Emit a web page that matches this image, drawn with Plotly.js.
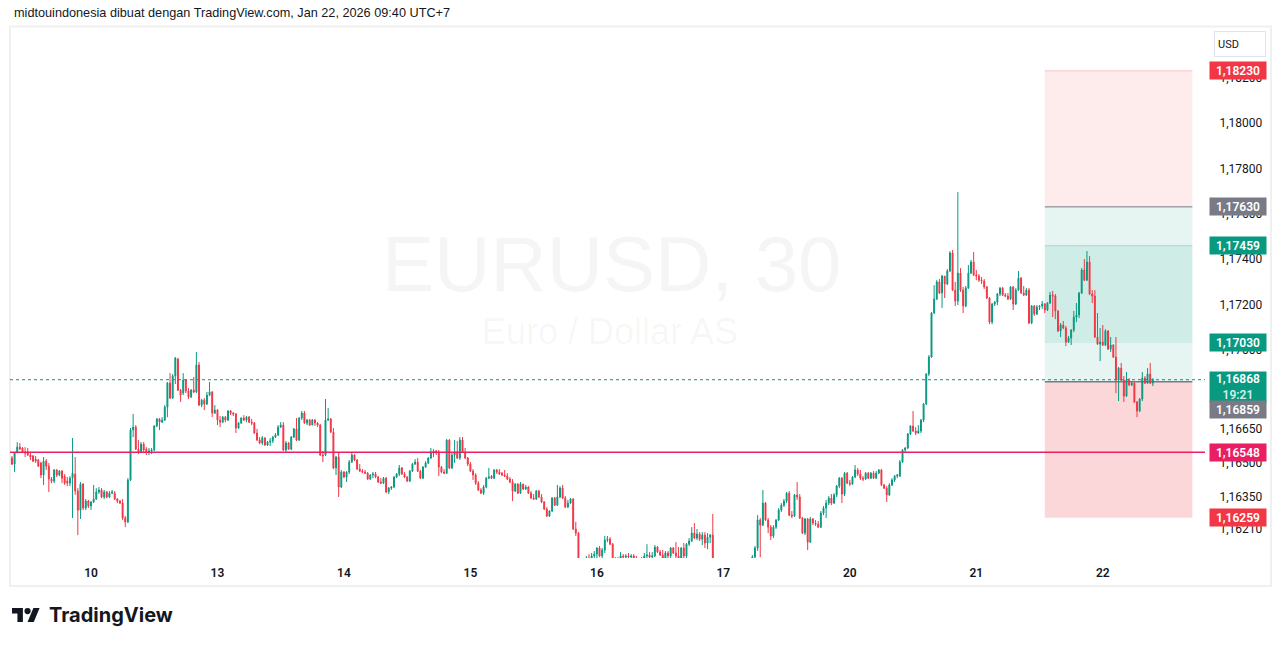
<!DOCTYPE html>
<html><head><meta charset="utf-8">
<script src="https://cdn.plot.ly/plotly-3.0.1.min.js"></script>
<style>html,body{margin:0;padding:0;background:#fff;}#chart{width:1281px;height:646px;}</style>
</head><body><div id="chart"></div>
<script>
// EURUSD 30-minute candles, Jan 9 2026 09:00 -> Jan 22 2026 09:30 (UTC+7)
const open = [
1.16523,1.16496,1.16545,1.16571,1.16567,1.16549,1.16549,1.16536,1.16532,1.16518,
1.16514,1.16501,1.16448,1.16509,1.16487,1.16430,1.16421,1.16470,1.16448,1.16465,
1.16443,1.16421,1.16412,1.16434,1.16452,1.16377,1.16293,1.16408,1.16302,1.16333,
1.16311,1.16329,1.16342,1.16373,1.16382,1.16351,1.16373,1.16351,1.16368,1.16368,
1.16342,1.16333,1.16324,1.16258,1.16241,1.16426,1.16646,1.16659,1.16562,1.16549,
1.16584,1.16562,1.16549,1.16554,1.16558,1.16664,1.16695,1.16681,1.16690,1.16747,
1.16853,1.16787,1.16884,1.16959,1.16822,1.16809,1.16867,1.16818,1.16792,1.16822,
1.16814,1.16933,1.16756,1.16778,1.16761,1.16800,1.16814,1.16721,1.16734,1.16690,
1.16681,1.16703,1.16690,1.16730,1.16721,1.16717,1.16655,1.16677,1.16699,1.16690,
1.16703,1.16681,1.16677,1.16633,1.16602,1.16589,1.16611,1.16580,1.16593,1.16598,
1.16615,1.16624,1.16659,1.16668,1.16558,1.16589,1.16562,1.16615,1.16651,1.16602,
1.16699,1.16721,1.16677,1.16690,1.16668,1.16690,1.16677,1.16668,1.16536,1.16536,
1.16690,1.16695,1.16637,1.16479,1.16527,1.16395,1.16461,1.16439,1.16461,1.16505,
1.16536,1.16514,1.16474,1.16465,1.16461,1.16456,1.16430,1.16448,1.16452,1.16439,
1.16417,1.16412,1.16434,1.16373,1.16390,1.16395,1.16439,1.16452,1.16479,1.16452,
1.16439,1.16421,1.16465,1.16496,1.16505,1.16465,1.16434,1.16483,1.16501,1.16523,
1.16549,1.16554,1.16545,1.16483,1.16461,1.16456,1.16602,1.16479,1.16536,1.16549,
1.16523,1.16602,1.16549,1.16523,1.16496,1.16465,1.16448,1.16412,1.16382,1.16368,
1.16395,1.16434,1.16443,1.16434,1.16470,1.16461,1.16456,1.16448,1.16443,1.16430,
1.16417,1.16377,1.16408,1.16368,1.16408,1.16386,1.16395,1.16368,1.16346,1.16342,
1.16377,1.16351,1.16329,1.16298,1.16267,1.16289,1.16346,1.16315,1.16351,1.16390,
1.16346,1.16307,1.16324,1.16342,1.16210,1.16192,1.16047,1.16038,1.16051,1.16082,
1.16073,1.16091,1.16099,1.16126,1.16091,1.16117,1.16161,1.16165,1.16143,1.16073,
1.16064,1.16077,1.16091,1.16086,1.16091,1.16086,1.16091,1.16082,1.16073,1.16069,
1.16082,1.16091,1.16095,1.16086,1.16091,1.16130,1.16108,1.16095,1.16082,1.16104,
1.16091,1.16126,1.16104,1.16091,1.16082,1.16126,1.16091,1.16143,1.16157,1.16192,
1.16170,1.16188,1.16165,1.16183,1.16148,1.16174,1.16183,1.16038,1.16020,1.16029,
1.16011,1.16020,1.16007,1.16016,1.16003,1.16011,1.16020,1.16011,1.16025,1.16016,
1.16029,1.16051,1.16086,1.16126,1.16249,1.16227,1.16324,1.16249,1.16218,1.16179,
1.16218,1.16249,1.16293,1.16315,1.16333,1.16368,1.16271,1.16267,1.16360,1.16351,
1.16258,1.16192,1.16254,1.16152,1.16254,1.16236,1.16232,1.16218,1.16280,1.16302,
1.16324,1.16346,1.16324,1.16360,1.16399,1.16434,1.16364,1.16456,1.16412,1.16408,
1.16439,1.16470,1.16452,1.16434,1.16430,1.16456,1.16434,1.16456,1.16434,1.16456,
1.16470,1.16404,1.16390,1.16360,1.16404,1.16426,1.16443,1.16443,1.16505,1.16558,
1.16567,1.16629,1.16664,1.16642,1.16633,1.16642,1.16690,1.16761,1.16893,1.16968,
1.17162,1.17224,1.17299,1.17250,1.17325,1.17290,1.17347,1.17427,1.17263,1.17215,
1.17338,1.17263,1.17193,1.17272,1.17338,1.17387,1.17330,1.17325,1.17307,1.17303,
1.17277,1.17228,1.17122,1.17202,1.17210,1.17246,1.17272,1.17241,1.17237,1.17224,
1.17277,1.17202,1.17263,1.17316,1.17250,1.17241,1.17263,1.17118,1.17193,1.17158,
1.17188,1.17193,1.17202,1.17175,1.17206,1.17241,1.17237,1.17171,1.17083,1.17109,
1.17096,1.17034,1.17052,1.17087,1.17144,1.17153,1.17250,1.17352,1.17307,1.17387,
1.17246,1.17237,1.17056,1.17025,1.17034,1.17021,1.17083,1.17003,1.17021,1.16968,
1.16867,1.16919,1.16867,1.16796,1.16867,1.16845,1.16853,1.16770,1.16730,1.16783,
1.16875,1.16853,1.16893,1.16853];
const high = [
1.16532,1.16549,1.16593,1.16589,1.16571,1.16571,1.16567,1.16545,1.16536,1.16532,
1.16518,1.16505,1.16527,1.16518,1.16501,1.16439,1.16474,1.16474,1.16470,1.16470,
1.16452,1.16439,1.16443,1.16611,1.16527,1.16390,1.16417,1.16412,1.16342,1.16338,
1.16333,1.16404,1.16390,1.16395,1.16390,1.16382,1.16377,1.16377,1.16382,1.16377,
1.16346,1.16338,1.16342,1.16267,1.16434,1.16655,1.16717,1.16668,1.16602,1.16593,
1.16593,1.16571,1.16567,1.16567,1.16668,1.16699,1.16699,1.16703,1.16756,1.16858,
1.16897,1.16893,1.16968,1.16964,1.16827,1.16897,1.16871,1.16831,1.16827,1.16880,
1.16990,1.16946,1.16783,1.16787,1.16814,1.16858,1.16818,1.16756,1.16739,1.16708,
1.16708,1.16708,1.16734,1.16734,1.16725,1.16721,1.16681,1.16703,1.16712,1.16708,
1.16708,1.16695,1.16681,1.16651,1.16615,1.16620,1.16615,1.16598,1.16611,1.16620,
1.16633,1.16668,1.16681,1.16681,1.16598,1.16593,1.16620,1.16655,1.16699,1.16703,
1.16730,1.16730,1.16695,1.16695,1.16695,1.16695,1.16681,1.16673,1.16554,1.16783,
1.16743,1.16699,1.16655,1.16532,1.16545,1.16470,1.16465,1.16465,1.16514,1.16545,
1.16540,1.16518,1.16496,1.16474,1.16470,1.16461,1.16452,1.16461,1.16461,1.16443,
1.16434,1.16439,1.16439,1.16395,1.16399,1.16443,1.16456,1.16492,1.16483,1.16461,
1.16443,1.16470,1.16501,1.16518,1.16523,1.16470,1.16487,1.16509,1.16527,1.16567,
1.16562,1.16558,1.16558,1.16487,1.16474,1.16606,1.16606,1.16545,1.16602,1.16598,
1.16615,1.16615,1.16567,1.16527,1.16505,1.16474,1.16456,1.16421,1.16390,1.16404,
1.16439,1.16479,1.16448,1.16474,1.16474,1.16474,1.16461,1.16470,1.16456,1.16439,
1.16430,1.16412,1.16412,1.16417,1.16408,1.16404,1.16399,1.16377,1.16364,1.16382,
1.16382,1.16364,1.16333,1.16307,1.16293,1.16351,1.16351,1.16404,1.16399,1.16404,
1.16355,1.16338,1.16346,1.16346,1.16241,1.16196,1.16073,1.16064,1.16091,1.16099,
1.16104,1.16113,1.16130,1.16135,1.16126,1.16179,1.16179,1.16174,1.16148,1.16086,
1.16086,1.16108,1.16099,1.16099,1.16104,1.16099,1.16099,1.16091,1.16082,1.16086,
1.16104,1.16143,1.16108,1.16108,1.16139,1.16135,1.16117,1.16117,1.16113,1.16113,
1.16130,1.16130,1.16152,1.16130,1.16130,1.16148,1.16148,1.16170,1.16218,1.16236,
1.16210,1.16196,1.16196,1.16196,1.16192,1.16188,1.16276,1.16051,1.16047,1.16042,
1.16033,1.16029,1.16029,1.16025,1.16025,1.16033,1.16029,1.16038,1.16033,1.16042,
1.16064,1.16095,1.16135,1.16271,1.16258,1.16382,1.16329,1.16258,1.16227,1.16227,
1.16254,1.16302,1.16324,1.16342,1.16373,1.16377,1.16289,1.16364,1.16417,1.16364,
1.16263,1.16258,1.16258,1.16263,1.16258,1.16249,1.16245,1.16289,1.16311,1.16338,
1.16355,1.16364,1.16368,1.16404,1.16439,1.16439,1.16461,1.16461,1.16426,1.16443,
1.16492,1.16479,1.16470,1.16443,1.16461,1.16461,1.16461,1.16465,1.16465,1.16474,
1.16474,1.16408,1.16399,1.16412,1.16434,1.16448,1.16452,1.16514,1.16562,1.16571,
1.16633,1.16668,1.16730,1.16659,1.16668,1.16695,1.16765,1.16897,1.16977,1.17166,
1.17285,1.17307,1.17312,1.17330,1.17325,1.17356,1.17435,1.17440,1.17299,1.17695,
1.17360,1.17277,1.17281,1.17374,1.17396,1.17431,1.17352,1.17334,1.17321,1.17312,
1.17281,1.17232,1.17206,1.17215,1.17250,1.17277,1.17277,1.17250,1.17250,1.17281,
1.17281,1.17272,1.17347,1.17321,1.17281,1.17272,1.17272,1.17197,1.17197,1.17197,
1.17197,1.17215,1.17206,1.17210,1.17255,1.17259,1.17246,1.17175,1.17118,1.17127,
1.17105,1.17061,1.17091,1.17171,1.17206,1.17255,1.17360,1.17400,1.17435,1.17413,
1.17263,1.17263,1.17162,1.17096,1.17109,1.17091,1.17087,1.17056,1.17025,1.17056,
1.16924,1.16942,1.16884,1.16902,1.16875,1.16862,1.16862,1.16774,1.16787,1.16902,
1.16884,1.16919,1.16942,1.16875];
const low = [
1.16492,1.16461,1.16545,1.16558,1.16545,1.16527,1.16532,1.16514,1.16505,1.16501,
1.16483,1.16434,1.16404,1.16470,1.16373,1.16412,1.16412,1.16439,1.16443,1.16412,
1.16404,1.16399,1.16399,1.16258,1.16360,1.16183,1.16254,1.16293,1.16293,1.16302,
1.16293,1.16324,1.16338,1.16364,1.16346,1.16342,1.16346,1.16346,1.16364,1.16338,
1.16324,1.16320,1.16249,1.16218,1.16236,1.16421,1.16615,1.16558,1.16540,1.16545,
1.16549,1.16536,1.16536,1.16540,1.16554,1.16659,1.16646,1.16677,1.16686,1.16703,
1.16783,1.16783,1.16849,1.16818,1.16770,1.16800,1.16809,1.16783,1.16787,1.16809,
1.16809,1.16752,1.16747,1.16734,1.16756,1.16796,1.16703,1.16717,1.16668,1.16659,
1.16677,1.16681,1.16686,1.16712,1.16708,1.16633,1.16651,1.16673,1.16686,1.16681,
1.16677,1.16668,1.16629,1.16598,1.16584,1.16580,1.16576,1.16576,1.16576,1.16589,
1.16611,1.16620,1.16655,1.16554,1.16549,1.16558,1.16558,1.16611,1.16598,1.16598,
1.16690,1.16673,1.16668,1.16664,1.16668,1.16664,1.16659,1.16532,1.16505,1.16532,
1.16686,1.16633,1.16474,1.16448,1.16351,1.16390,1.16434,1.16417,1.16452,1.16501,
1.16509,1.16470,1.16461,1.16456,1.16452,1.16426,1.16426,1.16434,1.16434,1.16412,
1.16408,1.16408,1.16368,1.16364,1.16382,1.16390,1.16434,1.16443,1.16448,1.16434,
1.16417,1.16417,1.16461,1.16492,1.16461,1.16430,1.16430,1.16479,1.16496,1.16518,
1.16527,1.16536,1.16443,1.16456,1.16452,1.16452,1.16474,1.16474,1.16501,1.16518,
1.16514,1.16545,1.16518,1.16487,1.16461,1.16426,1.16404,1.16377,1.16364,1.16360,
1.16390,1.16430,1.16430,1.16430,1.16452,1.16448,1.16443,1.16439,1.16426,1.16412,
1.16333,1.16373,1.16364,1.16364,1.16382,1.16382,1.16364,1.16342,1.16338,1.16338,
1.16346,1.16324,1.16293,1.16263,1.16263,1.16285,1.16311,1.16311,1.16346,1.16342,
1.16302,1.16302,1.16320,1.16205,1.16179,1.16029,1.16007,1.16020,1.16025,1.16060,
1.16064,1.16073,1.16082,1.16086,1.16082,1.16104,1.16152,1.16139,1.16064,1.16047,
1.16055,1.16064,1.16073,1.16073,1.16073,1.16077,1.16069,1.16060,1.16055,1.16060,
1.16073,1.16082,1.16082,1.16082,1.16086,1.16104,1.16091,1.16073,1.16073,1.16077,
1.16082,1.16099,1.16082,1.16069,1.16077,1.16082,1.16082,1.16135,1.16152,1.16165,
1.16161,1.16157,1.16139,1.16126,1.16121,1.16148,1.16007,1.15994,1.16003,1.15989,
1.15994,1.15989,1.15994,1.15985,1.15989,1.15998,1.15994,1.16003,1.15998,1.16007,
1.16020,1.16042,1.16082,1.16113,1.16086,1.16223,1.16245,1.16192,1.16161,1.16170,
1.16210,1.16245,1.16285,1.16307,1.16324,1.16267,1.16258,1.16263,1.16338,1.16254,
1.16188,1.16183,1.16117,1.16148,1.16227,1.16223,1.16214,1.16214,1.16271,1.16258,
1.16315,1.16315,1.16320,1.16351,1.16390,1.16324,1.16355,1.16408,1.16399,1.16404,
1.16434,1.16443,1.16426,1.16421,1.16426,1.16430,1.16430,1.16430,1.16430,1.16452,
1.16399,1.16386,1.16329,1.16355,1.16399,1.16417,1.16434,1.16439,1.16501,1.16549,
1.16562,1.16624,1.16637,1.16624,1.16629,1.16633,1.16681,1.16756,1.16884,1.16964,
1.17158,1.17219,1.17246,1.17184,1.17228,1.17285,1.17343,1.17259,1.17193,1.17197,
1.17255,1.17162,1.17188,1.17268,1.17334,1.17325,1.17307,1.17299,1.17290,1.17268,
1.17224,1.17113,1.17113,1.17193,1.17197,1.17237,1.17237,1.17232,1.17219,1.17219,
1.17175,1.17197,1.17259,1.17246,1.17237,1.17237,1.17113,1.17113,1.17149,1.17153,
1.17175,1.17180,1.17162,1.17171,1.17202,1.17144,1.17135,1.17078,1.17056,1.17091,
1.17016,1.17030,1.17021,1.17078,1.17122,1.17140,1.17246,1.17303,1.17303,1.17241,
1.17206,1.17052,1.17021,1.16950,1.17016,1.17016,1.16999,1.16990,1.16964,1.16809,
1.16774,1.16862,1.16770,1.16792,1.16840,1.16840,1.16765,1.16703,1.16725,1.16774,
1.16849,1.16849,1.16849,1.16840];
const close = [
1.16496,1.16545,1.16571,1.16562,1.16549,1.16545,1.16536,1.16527,1.16509,1.16509,
1.16487,1.16448,1.16509,1.16487,1.16430,1.16421,1.16470,1.16448,1.16465,1.16434,
1.16412,1.16412,1.16434,1.16456,1.16377,1.16293,1.16408,1.16302,1.16333,1.16311,
1.16329,1.16342,1.16373,1.16382,1.16351,1.16373,1.16351,1.16368,1.16373,1.16342,
1.16333,1.16324,1.16258,1.16241,1.16426,1.16646,1.16659,1.16562,1.16549,1.16584,
1.16558,1.16549,1.16554,1.16558,1.16664,1.16695,1.16681,1.16690,1.16747,1.16853,
1.16787,1.16884,1.16964,1.16822,1.16800,1.16867,1.16818,1.16792,1.16822,1.16814,
1.16933,1.16756,1.16778,1.16761,1.16800,1.16814,1.16721,1.16734,1.16690,1.16681,
1.16703,1.16690,1.16730,1.16721,1.16717,1.16655,1.16677,1.16699,1.16690,1.16703,
1.16681,1.16677,1.16633,1.16602,1.16589,1.16611,1.16580,1.16593,1.16598,1.16615,
1.16624,1.16659,1.16668,1.16558,1.16589,1.16562,1.16615,1.16651,1.16602,1.16699,
1.16721,1.16677,1.16690,1.16668,1.16690,1.16677,1.16668,1.16536,1.16532,1.16690,
1.16695,1.16637,1.16479,1.16527,1.16395,1.16461,1.16439,1.16461,1.16505,1.16536,
1.16514,1.16474,1.16465,1.16461,1.16456,1.16430,1.16448,1.16452,1.16439,1.16417,
1.16412,1.16434,1.16373,1.16390,1.16395,1.16439,1.16452,1.16479,1.16452,1.16439,
1.16421,1.16465,1.16496,1.16505,1.16465,1.16434,1.16483,1.16501,1.16523,1.16549,
1.16554,1.16545,1.16483,1.16461,1.16456,1.16602,1.16479,1.16536,1.16549,1.16523,
1.16602,1.16549,1.16523,1.16496,1.16465,1.16448,1.16412,1.16382,1.16368,1.16395,
1.16434,1.16439,1.16434,1.16470,1.16461,1.16452,1.16448,1.16443,1.16430,1.16417,
1.16377,1.16408,1.16368,1.16408,1.16386,1.16395,1.16368,1.16346,1.16342,1.16377,
1.16351,1.16329,1.16298,1.16267,1.16289,1.16346,1.16315,1.16351,1.16390,1.16346,
1.16307,1.16324,1.16342,1.16210,1.16192,1.16047,1.16038,1.16051,1.16082,1.16073,
1.16091,1.16099,1.16126,1.16091,1.16117,1.16161,1.16165,1.16143,1.16073,1.16064,
1.16077,1.16091,1.16086,1.16091,1.16086,1.16091,1.16082,1.16073,1.16069,1.16082,
1.16091,1.16095,1.16086,1.16091,1.16130,1.16108,1.16095,1.16082,1.16104,1.16091,
1.16126,1.16104,1.16091,1.16082,1.16126,1.16091,1.16143,1.16157,1.16192,1.16170,
1.16188,1.16165,1.16183,1.16148,1.16174,1.16183,1.16038,1.16020,1.16029,1.16011,
1.16020,1.16007,1.16016,1.16003,1.16011,1.16020,1.16011,1.16025,1.16016,1.16029,
1.16051,1.16086,1.16126,1.16249,1.16227,1.16324,1.16249,1.16218,1.16179,1.16218,
1.16249,1.16293,1.16315,1.16333,1.16368,1.16271,1.16267,1.16360,1.16351,1.16258,
1.16192,1.16254,1.16152,1.16254,1.16236,1.16232,1.16218,1.16280,1.16302,1.16324,
1.16346,1.16324,1.16360,1.16399,1.16434,1.16364,1.16456,1.16412,1.16408,1.16439,
1.16470,1.16452,1.16434,1.16430,1.16456,1.16434,1.16456,1.16434,1.16456,1.16470,
1.16404,1.16390,1.16360,1.16404,1.16426,1.16443,1.16448,1.16505,1.16558,1.16567,
1.16629,1.16664,1.16642,1.16633,1.16642,1.16690,1.16761,1.16893,1.16968,1.17162,
1.17224,1.17299,1.17250,1.17325,1.17290,1.17347,1.17427,1.17263,1.17215,1.17338,
1.17263,1.17193,1.17272,1.17338,1.17387,1.17330,1.17325,1.17307,1.17303,1.17277,
1.17228,1.17122,1.17202,1.17210,1.17246,1.17272,1.17241,1.17237,1.17224,1.17277,
1.17202,1.17263,1.17316,1.17250,1.17241,1.17263,1.17118,1.17193,1.17158,1.17188,
1.17193,1.17202,1.17175,1.17206,1.17241,1.17237,1.17171,1.17083,1.17109,1.17096,
1.17034,1.17052,1.17087,1.17144,1.17153,1.17250,1.17352,1.17307,1.17387,1.17246,
1.17237,1.17056,1.17025,1.17034,1.17021,1.17083,1.17003,1.17021,1.16968,1.16867,
1.16919,1.16867,1.16796,1.16867,1.16845,1.16853,1.16770,1.16730,1.16783,1.16875,
1.16853,1.16893,1.16853,1.16868];

// price-axis ticks shown by TradingView
const priceTicks = [1.182, 1.180, 1.178, 1.176, 1.174, 1.172, 1.170, 1.1665, 1.165, 1.1635, 1.1621];

// drawings: short & long position tools, alert line
const shortEntry = 1.17630, shortStop = 1.18230, shortTarget = 1.17030;
const longEntry = 1.16859, longStop = 1.16259, longTarget = 1.17459;
const toolFromBar = 392, toolToBar = 448;
const alertLevel = 1.16548;
const countdown = '19:21';

// visible window
const viewBars = [-0.74, 452.8];
const viewPrice = [1.16082, 1.18423];

// ----- time axis (UTC+7 wall clock, FX weekend Sat 05:00 -> Mon 05:00) -----
const firstBar = Date.UTC(2026, 0, 9, 9, 0);
const times = [];
let t = firstBar;
for (let k = 0; k < open.length; k++) {
  times.push(t);
  t += 30 * 60000;
  const d = new Date(t);
  if (d.getUTCDay() === 6 && d.getUTCHours() === 5 && d.getUTCMinutes() === 0) t += 48 * 3600000;
}
const bars = times.map((_, k) => k);
const tickIdx = [], tickText = [];
times.forEach((tt, k) => {
  const d = new Date(tt);
  if (d.getUTCHours() === 0 && d.getUTCMinutes() === 0) { tickIdx.push(k); tickText.push(String(d.getUTCDate())); }
});

const GREEN = '#089981', RED = '#f23645', GREY = '#787b86', PINK = '#e91e63', INK = '#131722';
const L = 10, R = 1205, T = 27, B = 558;
const px = v => (v - L) / (R - L);
const py = v => (B - v) / (B - T);
const fmt = v => v.toFixed(5).replace('.', ',');
const lastClose = close[close.length - 1];

const trace = {
  type: 'candlestick', x: bars, open: open, high: high, low: low, close: close,
  increasing: { line: { color: GREEN, width: 1 }, fillcolor: GREEN },
  decreasing: { line: { color: RED, width: 1 }, fillcolor: RED },
  whiskerwidth: 0, hoverinfo: 'skip'
};

const rect = (y0, y1, fill) => ({ type: 'rect', xref: 'x', yref: 'y', x0: toolFromBar, x1: toolToBar, y0, y1, fillcolor: fill, line: { width: 0 }, layer: 'below' });
const hline = (y, color, width) => ({ type: 'line', xref: 'x', yref: 'y', x0: toolFromBar, x1: toolToBar, y0: y, y1: y, line: { color, width }, layer: 'below' });

const shapes = [
  rect(shortEntry, shortStop, 'rgba(242,54,69,0.10)'),
  rect(shortTarget, shortEntry, 'rgba(8,153,129,0.10)'),
  rect(longEntry, longTarget, 'rgba(8,153,129,0.10)'),
  rect(longStop, longEntry, 'rgba(242,54,69,0.20)'),
  hline(shortStop, 'rgba(242,54,69,0.25)', 1),
  hline(longTarget, 'rgba(8,153,129,0.25)', 1),
  hline(shortEntry, GREY, 1),
  hline(longEntry, GREY, 1.5),
  { type: 'line', xref: 'paper', yref: 'y', x0: 0, x1: 1, y0: lastClose, y1: lastClose, line: { color: GREEN, width: 1, dash: 'dot' }, layer: 'above' },
  { type: 'line', xref: 'paper', yref: 'y', x0: 0, x1: 1, y0: alertLevel, y1: alertLevel, line: { color: PINK, width: 1.5 }, layer: 'above' },
  { type: 'rect', xref: 'paper', yref: 'paper', x0: px(10), x1: px(1271), y0: py(586), y1: py(26.5), line: { color: '#f0f0f0', width: 2 }, fillcolor: 'rgba(0,0,0,0)', layer: 'below' }
];

const lblX = px(1238);
const priceLabel = (y, bg, text, yshift, h) => ({
  xref: 'paper', yref: 'y', x: lblX, y, text: text || fmt(y), showarrow: false,
  xanchor: 'center', yanchor: 'middle', yshift: yshift || 0,
  width: 52, height: h || 13, borderpad: 2, bgcolor: bg,
  font: { family: 'Roboto', size: 12, color: '#ffffff', weight: 600 }
});

const annotations = [
  { xref: 'paper', yref: 'paper', x: px(12), y: py(13), xanchor: 'left', yanchor: 'middle', showarrow: false,
    text: 'midtouindonesia dibuat dengan TradingView.com, Jan 22, 2026 09:40 UTC+7',
    font: { family: 'Liberation Sans', size: 12.7, color: INK } },
  { xref: 'paper', yref: 'paper', x: px(611), y: py(264), xanchor: 'center', yanchor: 'middle', showarrow: false,
    text: 'EURUSD, 30', font: { family: 'Liberation Sans', size: 78, color: 'rgba(19,23,34,0.045)' } },
  { xref: 'paper', yref: 'paper', x: px(610), y: py(331), xanchor: 'center', yanchor: 'middle', showarrow: false,
    text: 'Euro / Dollar AS', font: { family: 'Liberation Sans', size: 36, color: 'rgba(19,23,34,0.045)' } },
  { xref: 'paper', yref: 'paper', x: px(1240), y: py(44), xanchor: 'center', yanchor: 'middle', showarrow: false,
    text: 'USD', width: 44, height: 18, borderpad: 3, align: 'left', bgcolor: '#ffffff', bordercolor: '#e0e3eb', borderwidth: 1,
    font: { family: 'Roboto', size: 11, color: INK } },
  priceLabel(shortStop, RED),
  priceLabel(shortEntry, GREY),
  priceLabel(longTarget, GREEN),
  priceLabel(shortTarget, GREEN),
  priceLabel(lastClose, GREEN, fmt(lastClose) + '<br><span style="color:#d4efea">' + countdown + '</span>', -7, 26),
  priceLabel(longEntry, GREY, null, -28),
  priceLabel(alertLevel, PINK),
  priceLabel(longStop, RED),
  { xref: 'paper', yref: 'paper', x: px(47), y: py(615), xanchor: 'left', yanchor: 'middle', showarrow: false,
    text: '<b>TradingView</b>', font: { family: 'Inter', size: 20, color: INK } }
];

const logoSvg = '<svg xmlns="http://www.w3.org/2000/svg" viewBox="0 4 36 18"><g fill="#131722"><path d="M14 22H7V11H0V4h14v18z"/><circle cx="20" cy="8" r="4"/><path d="M28 22h-8l7.5-18h8L28 22z"/></g></svg>';

const layout = {
  width: 1281, height: 646,
  margin: { l: L, r: 1281 - R, t: T, b: 646 - B, pad: 0 },
  paper_bgcolor: '#ffffff', plot_bgcolor: '#ffffff',
  showlegend: false, separators: ',.', boxgap: 0.5,
  xaxis: { range: viewBars, tickvals: tickIdx, ticktext: tickText, showgrid: false, zeroline: false, showline: false,
    ticks: 'outside', ticklen: 4, tickcolor: 'rgba(0,0,0,0)', rangeslider: { visible: false }, fixedrange: true,
    tickfont: { family: 'Roboto', size: 12, color: INK, weight: 600 } },
  yaxis: { side: 'right', range: viewPrice, tickvals: priceTicks, tickformat: '.5f', showgrid: false, zeroline: false,
    showline: false, ticks: 'outside', ticklen: 11, tickcolor: 'rgba(0,0,0,0)', fixedrange: true,
    tickfont: { family: 'Roboto', size: 12, color: INK } },
  shapes, annotations,
  images: [{ source: 'data:image/svg+xml;charset=utf-8,' + encodeURIComponent(logoSvg), xref: 'paper', yref: 'paper',
    x: px(12), y: py(608), sizex: 28 / (R - L), sizey: 14 / (B - T), xanchor: 'left', yanchor: 'top', sizing: 'stretch', layer: 'above' }]
};

Plotly.newPlot('chart', [trace], layout, { staticPlot: true, displayModeBar: false });
</script></body></html>
